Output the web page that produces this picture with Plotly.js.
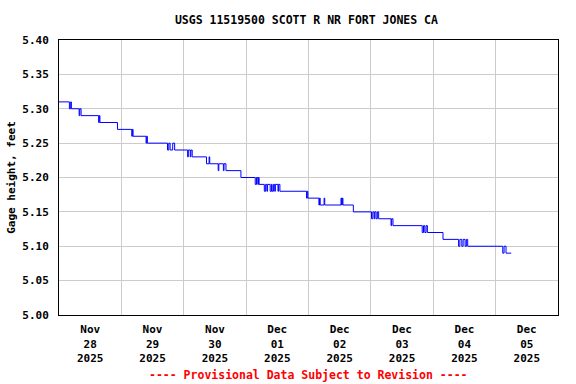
<!DOCTYPE html>
<html>
<head>
<meta charset="utf-8">
<script src="https://cdn.plot.ly/plotly-3.0.1.min.js"></script>
<style>
html, body { margin: 0; padding: 0; background: #fff; }
#chart { width: 576px; height: 384px; }
</style>
</head>
<body>
<div id="chart"></div>
<script>
// Gage height change points (step series, 15-min data collapsed to changes)
const times = [
  "2025-11-28 00:00","2025-11-28 04:00","2025-11-28 04:30","2025-11-28 04:45",
  "2025-11-28 07:45","2025-11-28 08:00","2025-11-28 08:30","2025-11-28 15:15",
  "2025-11-28 15:30","2025-11-28 15:45","2025-11-28 22:30",
  "2025-11-29 04:00","2025-11-29 04:15","2025-11-29 04:30","2025-11-29 09:30",
  "2025-11-29 09:45","2025-11-29 10:00","2025-11-29 17:45","2025-11-29 18:15",
  "2025-11-29 18:45","2025-11-29 19:45","2025-11-29 20:30",
  "2025-11-30 01:30","2025-11-30 01:45","2025-11-30 02:30","2025-11-30 02:45",
  "2025-11-30 03:15","2025-11-30 08:45","2025-11-30 09:45","2025-11-30 10:00",
  "2025-11-30 13:15","2025-11-30 13:30","2025-11-30 15:15","2025-11-30 15:30",
  "2025-11-30 16:15","2025-11-30 22:00",
  "2025-12-01 03:30","2025-12-01 04:00","2025-12-01 04:30","2025-12-01 04:45",
  "2025-12-01 05:00","2025-12-01 07:00","2025-12-01 07:30","2025-12-01 08:00",
  "2025-12-01 08:15","2025-12-01 09:15","2025-12-01 09:45","2025-12-01 10:00",
  "2025-12-01 10:30","2025-12-01 11:00","2025-12-01 11:15","2025-12-01 12:15",
  "2025-12-01 12:30","2025-12-01 13:00","2025-12-01 23:15","2025-12-01 23:30",
  "2025-12-01 23:45",
  "2025-12-02 04:00","2025-12-02 04:15","2025-12-02 04:30","2025-12-02 06:00",
  "2025-12-02 06:15","2025-12-02 12:30","2025-12-02 12:45","2025-12-02 13:00",
  "2025-12-02 13:15","2025-12-02 17:15",
  "2025-12-03 00:15","2025-12-03 00:45","2025-12-03 01:15","2025-12-03 01:30",
  "2025-12-03 02:00","2025-12-03 02:30","2025-12-03 03:00","2025-12-03 07:45",
  "2025-12-03 08:00","2025-12-03 08:30","2025-12-03 19:45","2025-12-03 20:15",
  "2025-12-03 20:45","2025-12-03 21:15","2025-12-03 21:45",
  "2025-12-04 03:45","2025-12-04 09:45","2025-12-04 10:15","2025-12-04 11:00",
  "2025-12-04 11:30","2025-12-04 12:15","2025-12-04 12:45","2025-12-04 13:15",
  "2025-12-05 02:45","2025-12-05 03:15","2025-12-05 04:00","2025-12-05 06:00"
];
const gageHeight = [
  5.31,5.30,5.31,5.30,
  5.29,5.30,5.29,5.28,
  5.29,5.28,5.27,
  5.26,5.27,5.26,5.25,
  5.26,5.25,5.24,5.25,
  5.24,5.25,5.24,
  5.23,5.24,5.23,5.24,
  5.23,5.22,5.23,5.22,
  5.21,5.22,5.21,5.22,
  5.21,5.20,
  5.19,5.20,5.19,5.20,
  5.19,5.18,5.19,5.18,
  5.19,5.18,5.19,5.18,
  5.19,5.18,5.19,5.18,
  5.19,5.18,5.17,5.18,
  5.17,
  5.16,5.17,5.16,5.17,
  5.16,5.17,5.16,5.17,
  5.16,5.15,
  5.14,5.15,5.14,5.15,
  5.14,5.15,5.14,5.13,
  5.14,5.13,5.12,5.13,
  5.12,5.13,5.12,
  5.11,5.10,5.11,5.10,
  5.11,5.10,5.11,5.10,
  5.09,5.10,5.09,5.09
];

// Axis tick labels (centered at noon of each day), grid at midnight
const tickDays = ["2025-11-28","2025-11-29","2025-11-30","2025-12-01",
                  "2025-12-02","2025-12-03","2025-12-04","2025-12-05"];
const tickLabels = ["Nov<br>28<br>2025","Nov<br>29<br>2025","Nov<br>30<br>2025",
                    "Dec<br>01<br>2025","Dec<br>02<br>2025","Dec<br>03<br>2025",
                    "Dec<br>04<br>2025","Dec<br>05<br>2025"];
const xRange = ["2025-11-28 00:00","2025-12-06 00:00"];
const yRange = [5.00, 5.40];

const FONT = "DejaVu Sans Mono, Liberation Mono, monospace";

const trace = {
  x: times, y: gageHeight, type: "scatter", mode: "lines",
  line: { color: "#0000ff", width: 1, shape: "hv" },
  hoverinfo: "skip"
};

const layout = {
  width: 576, height: 384,
  margin: { l: 59, r: 18, t: 40, b: 69, pad: 0 },
  paper_bgcolor: "#ffffff", plot_bgcolor: "#ffffff",
  showlegend: false,
  title: {
    text: "USGS 11519500 SCOTT R NR FORT JONES CA",
    font: { family: FONT, size: 11.5, color: "#000", weight: "bold" },
    x: 0.532, xanchor: "center", y: 0.948, yanchor: "middle"
  },
  xaxis: {
    type: "date", range: xRange,
    tickmode: "array",
    tickvals: tickDays.map(d => d + " 12:00"),
    ticktext: tickLabels,
    ticks: "", showgrid: false, zeroline: false,
    showline: true, linecolor: "#000", linewidth: 1, mirror: true,
    tickfont: { family: FONT, size: 11, color: "#000", weight: "bold" },
    ticklabelstandoff: 4,
    minor: {
      tickmode: "array",
      tickvals: tickDays.slice(1).map(d => d + " 00:00"),
      showgrid: true, gridcolor: "#cccccc", gridwidth: 1, ticks: ""
    },
    fixedrange: true
  },
  yaxis: {
    range: yRange, tickmode: "linear", tick0: 5.0, dtick: 0.05,
    tickformat: ".2f",
    ticks: "", showgrid: true, gridcolor: "#cccccc", gridwidth: 1,
    zeroline: false,
    showline: true, linecolor: "#000", linewidth: 1, mirror: true,
    tickfont: { family: FONT, size: 11, color: "#000", weight: "bold" },
    ticklabelstandoff: 7,
    title: {
      text: "Gage height, feet",
      font: { family: FONT, size: 11, color: "#000", weight: "bold" },
      standoff: 4
    },
    fixedrange: true
  },
  annotations: [{
    text: "---- Provisional Data Subject to Revision ----",
    xref: "paper", yref: "paper", x: 0.5, y: -0.218,
    xanchor: "center", yanchor: "middle", showarrow: false,
    font: { family: FONT, size: 11.5, color: "#ff0000", weight: "bold" }
  }]
};

Plotly.newPlot("chart", [trace], layout, { staticPlot: true, displayModeBar: false });
</script>
</body>
</html>
